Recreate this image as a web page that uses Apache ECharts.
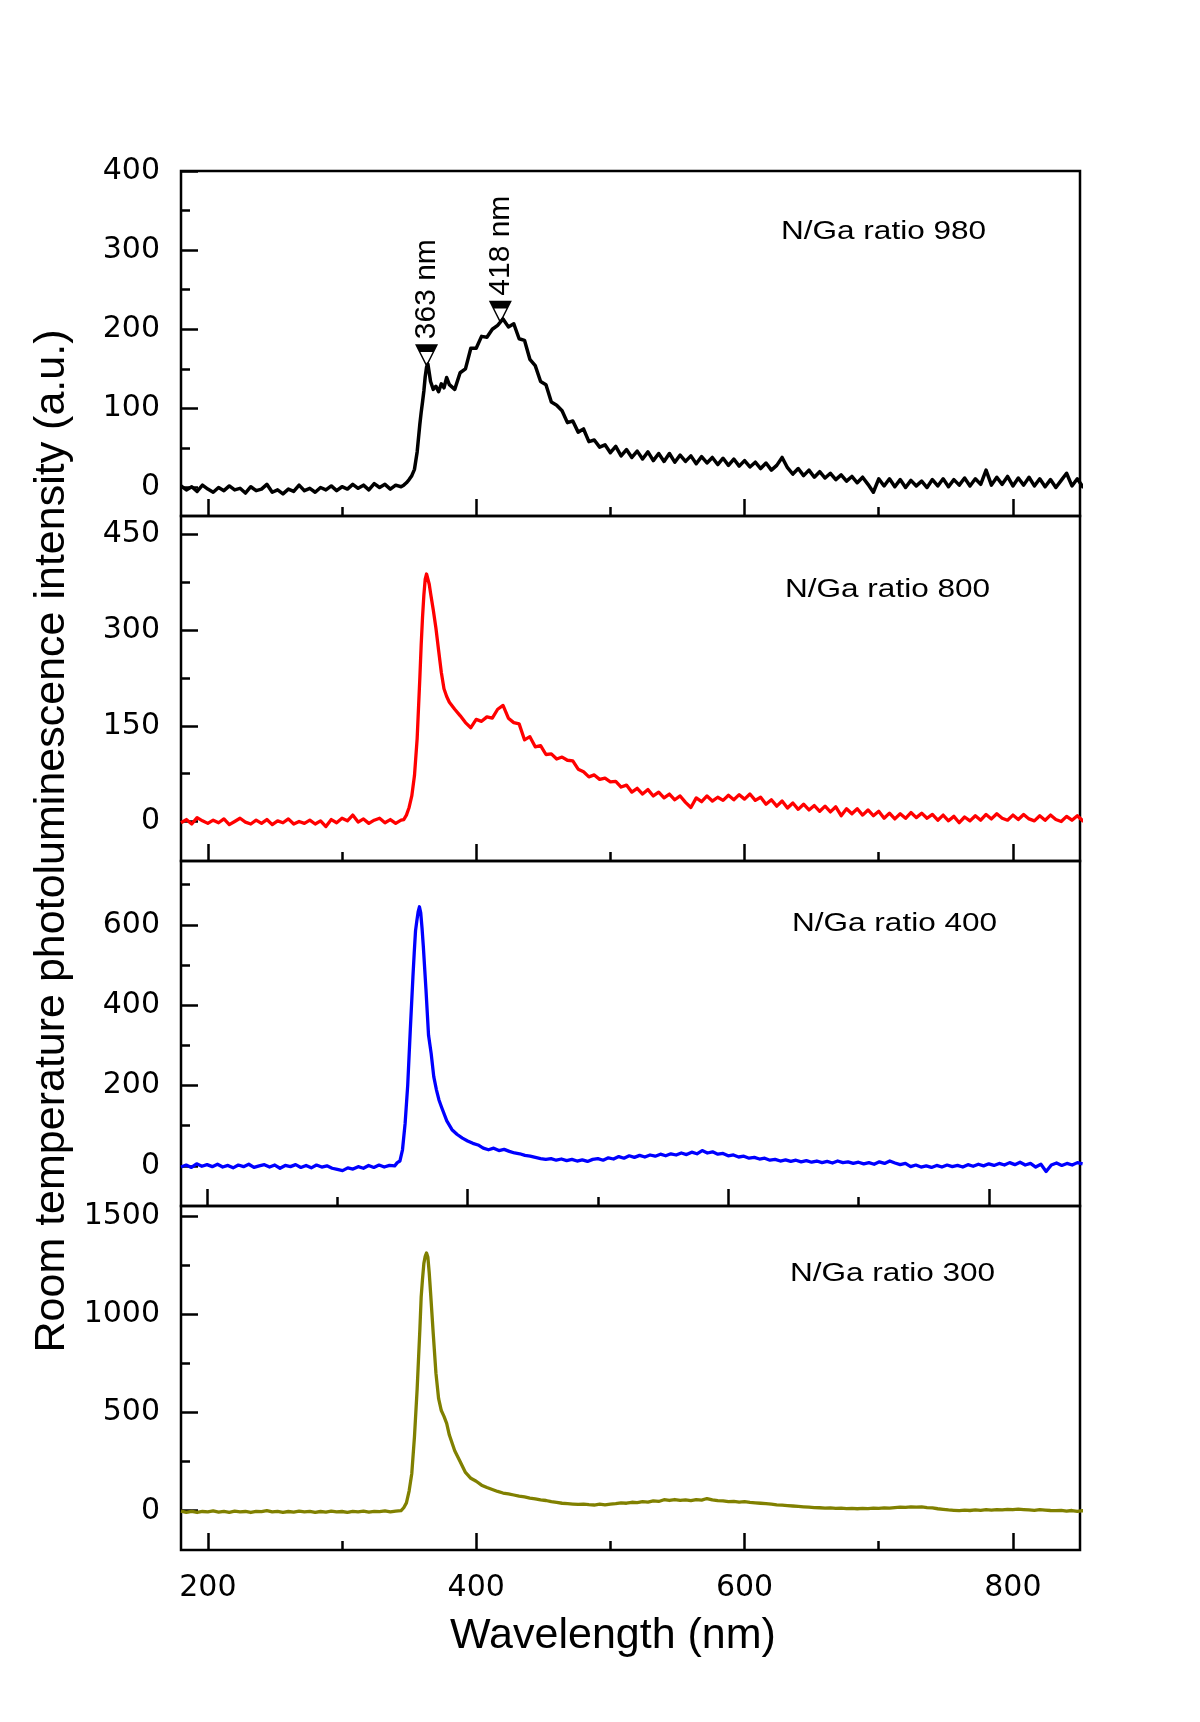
<!DOCTYPE html>
<html>
<head>
<meta charset="utf-8">
<script src="https://cdn.jsdelivr.net/npm/echarts@6.0.0/dist/echarts.min.js"></script>
<style>
html,body{margin:0;padding:0;background:#ffffff;}
#chart{width:1200px;height:1722px;}
</style>
</head>
<body>
<div id="chart"></div>
<script>
// ---------------- data ----------------
const wavelength = [
  180,184,188,192,196,200,204,208,212,216,
  220,224,228,232,236,240,244,248,252,256,
  260,264,268,272,276,280,284,288,292,296,
  300,304,308,312,316,320,324,328,332,336,
  340,344,
  346,348,350,352,354,356,358,359,360,361,362,363,364,365,366,368,370,372,374,376,378,380,
  384,388,392,396,400,404,408,412,416,420,
  424,428,432,436,440,444,448,452,456,460,
  464,468,472,476,480,484,488,492,496,500,
  504,508,512,516,520,524,528,532,536,540,
  544,548,552,556,560,564,568,572,576,580,
  584,588,592,596,600,604,608,612,616,620,
  624,628,632,636,640,644,648,652,656,660,
  664,668,672,676,680,684,688,692,696,700,
  704,708,712,716,720,724,728,732,736,740,
  744,748,752,756,760,764,768,772,776,780,
  784,788,792,796,800,804,808,812,816,820,
  824,828,832,836,840,844,848,852,856,860,
  864,868,872
];

const ratio980 = [
  2,-3,1,-5,3,-2,-6,0,-4,2,
  -3,-1,-7,1,-4,-2,4,-6,-3,-8,
  -2,-5,3,-4,-1,-6,0,-3,2,-4,
  1,-2,4,-1,3,-3,5,0,4,-2,
  3,1,
  3,6,10,15,23,45,80,95,108,122,140,152,156,145,134,124,128,121,131,126,139,130,
  124,145,150,176,176,191,190,200,205,213,
  203,207,188,186,162,154,134,130,108,104,
  97,82,84,70,74,58,60,51,54,44,
  52,40,48,38,46,36,45,34,43,33,
  43,32,41,33,40,30,39,31,38,29,
  37,28,36,27,34,26,32,24,31,22,
  28,38,25,17,24,15,22,13,20,12,
  18,10,16,8,14,6,13,4,-6,11,
  2,11,1,10,0,9,2,8,0,10,
  2,11,1,10,3,12,2,11,4,22,
  3,13,4,14,2,12,3,13,2,11,
  1,10,0,9,18,2,11,1,9,0,
  10,1,8
];

const ratio800 = [
  -2,3,-4,6,1,-3,2,-2,4,-5,
  0,5,-1,-4,2,-3,3,-5,1,-2,
  4,-4,0,-3,2,-4,1,-8,3,-2,
  5,1,10,-1,4,-3,2,5,-2,3,
  -3,2,
  3,10,22,40,72,130,225,277,320,355,380,388,389,372,358,332,303,268,234,208,196,187,
  176,166,155,147,160,157,164,162,176,182,
  162,155,153,128,133,117,119,105,106,98,
  101,96,95,82,78,70,73,66,68,62,
  63,54,57,46,52,43,50,40,46,37,
  43,34,40,30,22,37,31,40,32,38,
  33,41,34,42,35,43,33,38,27,34,
  24,32,21,29,19,27,18,25,16,24,
  15,23,9,20,12,20,10,18,9,16,
  5,13,4,12,5,14,6,13,5,11,
  2,10,1,8,-2,7,1,9,2,11,
  4,12,5,2,10,3,11,4,1,9,
  2,10,3,0,8,2,9,1,7,0,
  6,-1,5
];

const ratio400 = [
  -3,2,-4,5,-1,3,-2,4,-3,1,
  -5,2,-2,4,-4,0,3,-3,2,-6,
  1,-2,3,-4,1,-5,2,-3,0,-6,
  -9,-12,-5,-8,-2,-6,1,-4,2,-3,
  1,0,
  8,12,40,105,200,339,470,530,585,610,632,645,630,592,546,440,325,280,222,190,164,146,
  112,90,78,69,62,56,52,44,40,44,
  38,41,36,32,30,26,24,21,18,16,
  18,14,17,13,16,12,15,11,16,18,
  14,20,17,23,19,25,21,26,22,27,
  24,29,25,30,27,32,28,34,30,38,
  32,35,29,31,25,27,22,24,19,21,
  17,19,14,16,12,15,11,14,10,13,
  9,12,8,11,7,12,8,10,6,9,
  5,8,4,10,6,12,7,3,6,-2,
  2,-3,0,-4,1,-3,2,-2,1,-3,
  3,-1,4,0,5,1,6,2,8,3,
  9,2,6,-3,4,-14,2,7,1,6,
  2,8,5
];

const ratio300 = [
  -2,-8,-3,-9,-4,-6,-1,-7,-3,-8,
  -2,-6,-4,-9,-3,-5,0,-6,-3,-8,
  -4,-7,-2,-6,-3,-8,-4,-7,-2,-6,
  -4,-8,-3,-6,-2,-7,-3,-5,-1,-6,
  -2,0,
  15,40,100,190,377,620,920,1089,1180,1259,1295,1312,1290,1210,1110,900,700,570,510,480,445,385,
  305,250,195,165,150,130,118,108,98,90,
  86,80,74,70,64,60,55,52,46,42,
  38,36,34,32,34,31,29,33,30,34,
  36,40,38,43,41,46,44,50,47,56,
  52,57,53,55,51,56,54,62,55,51,
  50,46,48,44,46,42,40,38,36,33,
  30,28,26,24,22,20,18,16,15,13,
  14,12,13,11,12,10,12,11,13,12,
  14,13,16,18,17,20,18,19,16,14,
  10,7,4,2,0,3,1,4,2,5,
  3,6,4,7,5,8,6,4,2,5,
  3,1,0,2,-2,1,-3,0,-2,1,
  -1,0,-2
];

const panelLabels = ['N/Ga ratio 980', 'N/Ga ratio 800', 'N/Ga ratio 400', 'N/Ga ratio 300'];

// peak markers on the top spectrum
const peakWavelength = [363, 418];
const peakIntensity = [152, 207];
const peakText = ['363 nm', '418 nm'];

// axis ranges and tick values
const xRange = [[180, 850], [180, 850], [180, 870], [180, 850]];
const xMajorTicks = [200, 400, 600, 800];
const xMinorTicks = [300, 500, 700];
const yRange = [[-36, 400], [-62, 479], [-100, 759], [-200, 1551]];
const yMajorTicks = [
  [0, 100, 200, 300, 400],
  [0, 150, 300, 450],
  [0, 200, 400, 600],
  [0, 500, 1000, 1500]
];
const yMinorTicks = [
  [50, 150, 250, 350],
  [75, 225, 375],
  [100, 300, 500, 700],
  [250, 750, 1250]
];

// ---------------- layout & style ----------------
const seriesValues = [ratio980, ratio800, ratio400, ratio300];
const seriesColors = ['#000000', '#ff0000', '#0000ff', '#808000'];
const seriesWidths = [3.5, 3.3, 3.3, 3.3];
const gridLayout = [
  {top: 171, height: 345},
  {top: 516, height: 345},
  {top: 861, height: 345},
  {top: 1206, height: 344}
];
const labelPos = [[781, 232], [785, 590], [792, 924], [790, 1274]];
const sans = '"Liberation Sans", Arial, sans-serif';
const tickFont = '"DejaVu Sans", sans-serif';
const plain = v => String(v);

const grids = [], xAxes = [], yAxes = [], series = [], graphics = [];

gridLayout.forEach((g, i) => {
  grids.push({
    left: 181, width: 899, top: g.top, height: g.height,
    show: true, borderColor: '#000', borderWidth: 2.5, backgroundColor: 'transparent'
  });
  const isBottom = i === gridLayout.length - 1;
  // major x axis
  xAxes.push({
    type: 'value', gridIndex: i, position: 'bottom', min: xRange[i][0], max: xRange[i][1],
    axisLine: {show: false, onZero: false}, splitLine: {show: false},
    axisTick: {show: true, inside: true, length: 17, lineStyle: {color: '#000', width: 2.5}, customValues: xMajorTicks},
    axisLabel: {show: isBottom, customValues: xMajorTicks, formatter: plain, margin: 23, fontSize: 30, fontFamily: tickFont, color: '#000'}
  });
  // minor x axis
  xAxes.push({
    type: 'value', gridIndex: i, position: 'bottom', min: xRange[i][0], max: xRange[i][1],
    axisLine: {show: false, onZero: false}, splitLine: {show: false},
    axisTick: {show: true, inside: true, length: 9, lineStyle: {color: '#000', width: 2.5}, customValues: xMinorTicks},
    axisLabel: {show: false}
  });
  // major y axis
  yAxes.push({
    type: 'value', gridIndex: i, position: 'left', min: yRange[i][0], max: yRange[i][1],
    axisLine: {show: false, onZero: false}, splitLine: {show: false},
    axisTick: {show: true, inside: true, length: 17, lineStyle: {color: '#000', width: 2.5}, customValues: yMajorTicks[i]},
    axisLabel: {show: true, customValues: yMajorTicks[i], formatter: plain, margin: 21, fontSize: 30, fontFamily: tickFont, color: '#000'}
  });
  // minor y axis
  yAxes.push({
    type: 'value', gridIndex: i, position: 'left', min: yRange[i][0], max: yRange[i][1],
    axisLine: {show: false, onZero: false}, splitLine: {show: false},
    axisTick: {show: true, inside: true, length: 9, lineStyle: {color: '#000', width: 2.5}, customValues: yMinorTicks[i]},
    axisLabel: {show: false}
  });

  const s = {
    type: 'line', name: panelLabels[i],
    xAxisIndex: 2 * i, yAxisIndex: 2 * i,
    data: wavelength.map((w, k) => [w, seriesValues[i][k]]),
    showSymbol: false, symbol: 'none', clip: true,
    lineStyle: {color: seriesColors[i], width: seriesWidths[i], join: 'round'},
    itemStyle: {color: seriesColors[i]},
    z: 3
  };
  if (i === 0) {
    s.markPoint = {
      symbol: 'path://M0,0L24,0L12,24Z M5.68,8L12,20.64L18.32,8Z',
      symbolSize: [23, 23],
      symbolOffset: [0, '-50%'],
      itemStyle: {color: '#000'},
      label: {
        show: true, position: 'top', distance: 5, rotate: 90,
        align: 'left', verticalAlign: 'middle',
        fontSize: 30, fontFamily: sans, color: '#000',
        formatter: p => p.name
      },
      data: peakWavelength.map((w, k) => ({name: peakText[k], coord: [w, peakIntensity[k]]}))
    };
  }
  series.push(s);

  graphics.push({
    type: 'text', x: labelPos[i][0], y: labelPos[i][1], scaleX: 1.19,
    style: {text: panelLabels[i], fontSize: 26.5, fontFamily: sans, fill: '#000', align: 'left', verticalAlign: 'middle'}
  });
});

graphics.push({
  type: 'text', x: 52, y: 841, rotation: Math.PI / 2,
  style: {text: 'Room temperature photoluminescence intensity (a.u.)', fontSize: 43, fontFamily: sans, fill: '#000', align: 'center', verticalAlign: 'middle'}
});
graphics.push({
  type: 'text', x: 613, y: 1636,
  style: {text: 'Wavelength (nm)', fontSize: 43, fontFamily: sans, fill: '#000', align: 'center', verticalAlign: 'middle'}
});

const chart = echarts.init(document.getElementById('chart'), null, {renderer: 'canvas', width: 1200, height: 1722});
chart.setOption({
  animation: false,
  backgroundColor: '#ffffff',
  grid: grids,
  xAxis: xAxes,
  yAxis: yAxes,
  series: series,
  graphic: graphics
});
</script>
</body>
</html>
